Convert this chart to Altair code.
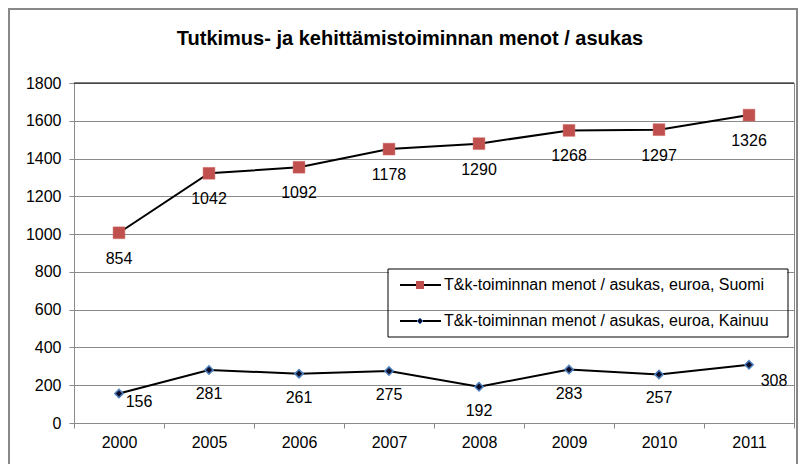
import altair as alt
import pandas as pd

years = ["2000", "2005", "2006", "2007", "2008", "2009", "2010", "2011"]
suomi_values = [1007, 1322, 1354, 1450, 1479, 1549, 1553, 1630]
suomi_labels = [854, 1042, 1092, 1178, 1290, 1268, 1297, 1326]
kainuu_values = [156, 281, 261, 275, 192, 283, 257, 308]
series_names = [
    "T&k-toiminnan menot / asukas, euroa, Suomi",
    "T&k-toiminnan menot / asukas, euroa, Kainuu",
]
title_text = "Tutkimus- ja kehittämistoiminnan menot / asukas"
y_ticks = list(range(0, 1801, 200))
top_value = [1800]

suomi = pd.DataFrame({"year": years, "value": suomi_values, "label": suomi_labels})
kainuu = pd.DataFrame({"year": years, "value": kainuu_values, "label": kainuu_values})

W, H = 720, 340
FONT = "Arial"
FS = 16
GRAY = "#8a8a8a"
RED = "#C0504D"

x_enc = alt.X(
    "year:N",
    sort=years,
    scale=alt.Scale(type="band", paddingInner=0, paddingOuter=0),
    axis=alt.Axis(
        title=None, labelAngle=0, tickBand="extent", grid=False,
        domainColor=GRAY, tickColor=GRAY, tickSize=5, labelPadding=6,
        labelFont=FONT, labelFontSize=FS, labelColor="#000",
    ),
)
y_enc = alt.Y(
    "value:Q",
    scale=alt.Scale(domain=[0, 1800], nice=False),
    axis=alt.Axis(
        title=None, values=y_ticks, grid=True, gridColor=GRAY, format="d",
        labelOverlap=False, labelFlush=False,
        domainColor=GRAY, tickColor=GRAY, tickSize=5, labelPadding=8,
        labelFont=FONT, labelFontSize=FS, labelColor="#000",
    ),
)

# outer chart frame
frame = alt.Chart(pd.DataFrame({"a": [0]})).mark_rect(
    fill="transparent", stroke="#888888", strokeWidth=2
).encode(x=alt.value(-65), x2=alt.value(723), y=alt.value(-74), y2=alt.value(420))

title = alt.Chart(pd.DataFrame({"t": [title_text]})).mark_text(
    font=FONT, fontSize=20,
    fontWeight="bold", align="center", baseline="alphabetic", color="#000"
).encode(x=alt.value(336), y=alt.value(-38), text="t:N")

top_rule = alt.Chart(pd.DataFrame({"value": top_value})).mark_rule(
    color="#000", strokeWidth=1.2
).encode(y=y_enc)

s_line = alt.Chart(suomi).mark_line(color="#000", strokeWidth=2).encode(x=x_enc, y=y_enc)
s_pts = alt.Chart(suomi).mark_point(
    shape="square", filled=True, fill=RED, size=140, opacity=1,
    stroke="#d06a67", strokeWidth=0.5
).encode(x=x_enc, y=y_enc)
s_txt = alt.Chart(suomi).mark_text(
    font=FONT, fontSize=FS, color="#000", dy=26, baseline="middle"
).encode(x=x_enc, y=y_enc, text="label:N")

k_line = alt.Chart(kainuu).mark_line(color="#000", strokeWidth=2).encode(x=x_enc, y=y_enc)
k_pts = alt.Chart(kainuu).mark_point(
    shape="diamond", filled=True, fill="#0d0d2a", size=70, opacity=1,
    stroke="#4F81BD", strokeWidth=1.5
).encode(x=x_enc, y=y_enc)
k_txt_mid = alt.Chart(kainuu).transform_filter(
    alt.FieldOneOfPredicate(field="year", oneOf=years[1:-1])
).mark_text(font=FONT, fontSize=FS, color="#000", dy=24, baseline="middle").encode(
    x=x_enc, y=y_enc, text="label:N")
k_txt_first = alt.Chart(kainuu).transform_filter(
    alt.FieldOneOfPredicate(field="year", oneOf=[years[0]])
).mark_text(font=FONT, fontSize=FS, color="#000", dx=20, dy=8, baseline="middle").encode(
    x=x_enc, y=y_enc, text="label:N")
k_txt_last = alt.Chart(kainuu).transform_filter(
    alt.FieldOneOfPredicate(field="year", oneOf=[years[-1]])
).mark_text(font=FONT, fontSize=FS, color="#000", dx=25, dy=16, baseline="middle").encode(
    x=x_enc, y=y_enc, text="label:N")

# legend (drawn manually)
one = pd.DataFrame({"a": [0]})
leg_strip = alt.Chart(one).mark_rect(fill="white").encode(
    x=alt.value(315), x2=alt.value(713), y=alt.value(187), y2=alt.value(194))
leg_box = alt.Chart(one).mark_rect(fill="transparent", stroke="#000", strokeWidth=1).encode(
    x=alt.value(314), x2=alt.value(714), y=alt.value(186), y2=alt.value(254))
leg_l1 = alt.Chart(one).mark_rule(color="#000", strokeWidth=2).encode(
    x=alt.value(326), x2=alt.value(367), y=alt.value(202))
leg_l2 = alt.Chart(one).mark_rule(color="#000", strokeWidth=2).encode(
    x=alt.value(326), x2=alt.value(367), y=alt.value(238))
leg_p1 = alt.Chart(one).mark_point(shape="square", filled=True, fill=RED, size=64, opacity=1).encode(
    x=alt.value(346), y=alt.value(202))
leg_p2 = alt.Chart(one).mark_point(
    shape="diamond", filled=True, fill="#0d0d2a", size=36, opacity=1,
    stroke="#4F81BD", strokeWidth=1).encode(x=alt.value(346), y=alt.value(238))
leg_t1 = alt.Chart(pd.DataFrame({"t": [series_names[0]]})).mark_text(
    font=FONT, fontSize=FS, color="#000", align="left", baseline="middle").encode(
    x=alt.value(370), y=alt.value(202), text="t:N")
leg_t2 = alt.Chart(pd.DataFrame({"t": [series_names[1]]})).mark_text(
    font=FONT, fontSize=FS, color="#000", align="left", baseline="middle").encode(
    x=alt.value(370), y=alt.value(238), text="t:N")

chart = alt.layer(
    s_line, k_line, top_rule, s_pts, k_pts, s_txt, k_txt_mid, k_txt_first, k_txt_last,
    leg_strip, leg_box, leg_l1, leg_l2, leg_p1, leg_p2, leg_t1, leg_t2,
    frame, title,
).properties(
    width=W, height=H, autosize="none",
    padding={"left": 66, "top": 75, "right": 4, "bottom": 41},
).configure_view(stroke=GRAY, strokeWidth=1)

chart.save("out.html", embed_options={"renderer": "svg", "actions": False})
